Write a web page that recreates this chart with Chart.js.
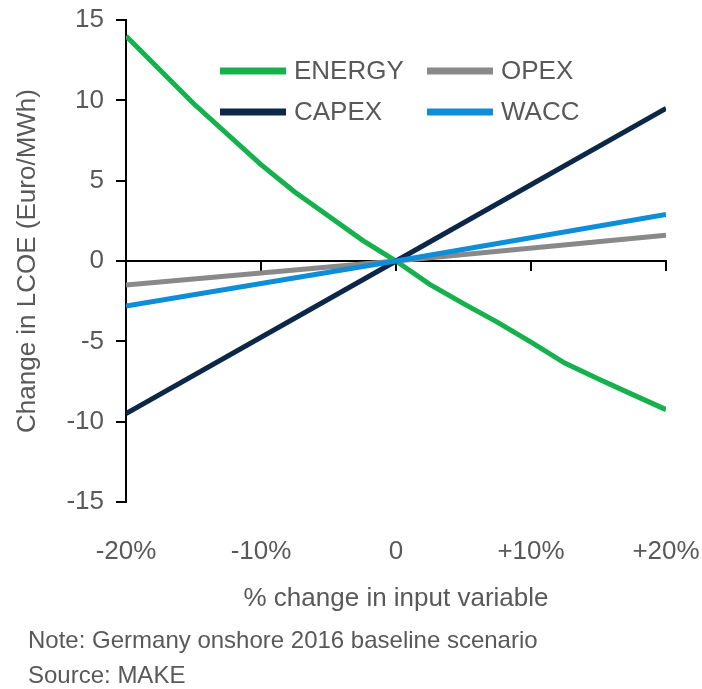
<!DOCTYPE html>
<html>
<head>
<meta charset="utf-8">
<script src="https://cdn.jsdelivr.net/npm/chart.js@4.4.1/dist/chart.umd.min.js"></script>
<style>
html,body{margin:0;padding:0;background:#fff;}
#wrap{position:relative;width:702px;height:689px;overflow:hidden;}
#c{position:absolute;left:0;top:0;}
.note{position:absolute;left:28px;font-family:"Liberation Sans",Arial,sans-serif;font-size:24px;color:#595959;line-height:1;white-space:nowrap;}
</style>
</head>
<body>
<div id="wrap">
<canvas id="c" width="702" height="689"></canvas>
<div class="note" style="top:628px">Note: Germany onshore 2016 baseline scenario</div>
<div class="note" style="top:663px">Source: MAKE</div>
</div>
<script>
// ---- data ----
const energyPct    = [-20, -15, -10, -7.5, -5, -2.5, 0, 2.5, 5, 7.5, 10, 12.5, 15, 17.5, 20];
const energyValues = [14.0, 9.8, 6.0, 4.3, 2.8, 1.3, 0, -1.45, -2.65, -3.8, -5.05, -6.35, -7.35, -8.3, -9.25];
const linearPct    = [-20, 0, 20];
const capexValues  = [-9.5, 0, 9.5];
const opexValues   = [-1.5, 0, 1.6];
const waccValues   = [-2.8, 0, 2.9];
const xTickValues  = [-20, -10, 0, 10, 20];
const xTickLabels  = ['-20%', '-10%', '0', '+10%', '+20%'];
const yTickValues  = [-15, -10, -5, 0, 5, 10, 15];
const legendRows   = [['ENERGY', 'OPEX'], ['CAPEX', 'WACC']];

const COLORS = { ENERGY: '#14B14D', CAPEX: '#0C2747', OPEX: '#898989', WACC: '#0E8DD8' };
const TEXT = '#595959';
const FONT = { family: '"Liberation Sans", Arial, sans-serif', size: 26 };

const pts = (xs, ys) => xs.map((x, i) => ({ x: x, y: ys[i] }));

const legendPlugin = {
  id: 'customLegend',
  afterDatasetsDraw(chart) {
    const ctx = chart.ctx, a = chart.chartArea;
    const colX = [a.left + 94, a.left + 301];
    const rowY = [a.top + 51, a.top + 92];
    ctx.save();
    ctx.font = FONT.size + 'px ' + FONT.family;
    ctx.textBaseline = 'middle';
    ctx.textAlign = 'left';
    legendRows.forEach((row, r) => {
      row.forEach((label, c) => {
        const x = colX[c], y = rowY[r];
        ctx.strokeStyle = COLORS[label];
        ctx.lineWidth = 7;
        ctx.lineCap = 'butt';
        ctx.beginPath(); ctx.moveTo(x, y); ctx.lineTo(x + 66, y); ctx.stroke();
        ctx.fillStyle = TEXT;
        ctx.fillText(label, x + 74, y + 1);
      });
    });
    ctx.restore();
  }
};

const setXTicks = s => { s.ticks = xTickValues.map(v => ({ value: v })); };
const noSidePad = s => { s.paddingLeft = 0; s.paddingRight = 0; };

new Chart(document.getElementById('c'), {
  type: 'line',
  data: {
    datasets: [
      { label: 'ENERGY', data: pts(energyPct, energyValues), borderColor: COLORS.ENERGY, order: 4 },
      { label: 'CAPEX', data: pts(linearPct, capexValues), borderColor: COLORS.CAPEX, order: 2 },
      { label: 'OPEX', data: pts(linearPct, opexValues), borderColor: COLORS.OPEX, order: 3 },
      { label: 'WACC', data: pts(linearPct, waccValues), borderColor: COLORS.WACC, order: 1 }
    ]
  },
  options: {
    responsive: false,
    animation: false,
    devicePixelRatio: 1,
    layout: { padding: { top: 20, right: 36, bottom: 69, left: 0 } },
    elements: { point: { radius: 0 }, line: { borderWidth: 5, tension: 0, fill: false } },
    plugins: { legend: { display: false }, tooltip: { enabled: false } },
    scales: {
      x: {
        type: 'linear', position: 'bottom', min: -20, max: 20,
        afterBuildTicks: setXTicks,
        ticks: {
          callback: v => xTickLabels[xTickValues.indexOf(v)],
          font: FONT, color: TEXT, padding: 26, maxRotation: 0, autoSkip: false
        },
        grid: { display: false },
        border: { display: false },
        title: { display: true, text: '% change in input variable', font: FONT, color: TEXT, padding: { top: 0, bottom: 6 } },
        afterFit: s => { s.height = 118; noSidePad(s); }
      },
      x0: {
        type: 'linear', position: { y: 0 }, min: -20, max: 20,
        afterBuildTicks: setXTicks,
        ticks: { display: false },
        grid: { display: true, drawOnChartArea: false, drawTicks: true, tickLength: 9, color: '#000', lineWidth: 2 },
        border: { display: true, color: '#000', width: 2 },
        afterFit: noSidePad
      },
      y: {
        type: 'linear', position: 'left', min: -15, max: 15,
        afterBuildTicks: s => { s.ticks = yTickValues.map(v => ({ value: v })); },
        ticks: { font: FONT, color: TEXT, padding: 12 },
        grid: { drawOnChartArea: false, drawTicks: true, tickLength: 10, color: '#000', lineWidth: 2 },
        border: { display: true, color: '#000', width: 2 },
        title: { display: true, text: 'Change in LCOE (Euro/MWh)', font: FONT, color: TEXT, padding: { top: 12, bottom: 0 } },
        afterFit: s => { s.width = 126; s.paddingTop = 0; s.paddingBottom = 0; }
      }
    }
  },
  plugins: [legendPlugin]
});
</script>
</body>
</html>
